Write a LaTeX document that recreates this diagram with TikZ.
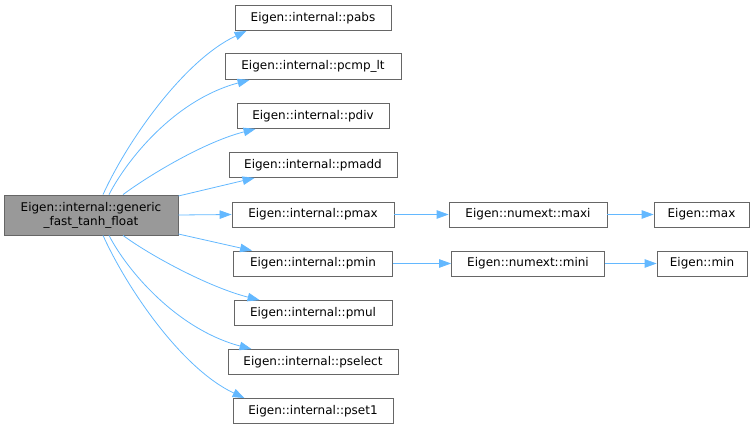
\documentclass[tikz,border=0pt]{standalone}
\usepackage{fontspec}
\setmainfont{DejaVu Sans}
\usetikzlibrary{arrows.meta}
\definecolor{edgeblue}{RGB}{99,184,255}
\definecolor{boxgray}{RGB}{102,102,102}
\definecolor{mainfill}{RGB}{153,153,153}
\tikzset{
  fn/.style={draw=boxgray, fill=white, line width=0.8pt, inner sep=0pt, anchor=center, font=\fontsize{12}{14}\selectfont, text=black},
  mainfn/.style={fn, fill=mainfill, align=center},
  call/.style={draw=edgeblue, line width=0.8pt, -{Triangle[length=12pt,width=8.5pt]}}
}
\begin{document}
\begin{tikzpicture}[x=1pt,y=-1pt]
\useasboundingbox (0,0) rectangle (755,431);
\node[mainfn, minimum width=174pt, minimum height=40pt] (main) at (91,215) {Eigen::internal::generic\\\_fast\_tanh\_float};
\node[fn, minimum width=156pt, minimum height=25pt] (pabs) at (313,18) {Eigen::internal::pabs};
\node[fn, minimum width=176pt, minimum height=26pt] (pcmp) at (313,66.5) {Eigen::internal::pcmp\_lt};
\node[fn, minimum width=152pt, minimum height=25pt] (pdiv) at (313,116) {Eigen::internal::pdiv};
\node[fn, minimum width=168pt, minimum height=25pt] (pmadd) at (313,165) {Eigen::internal::pmadd};
\node[fn, minimum width=162pt, minimum height=25pt] (pmax) at (313,214.5) {Eigen::internal::pmax};
\node[fn, minimum width=159pt, minimum height=25pt] (pmin) at (313,263.5) {Eigen::internal::pmin};
\node[fn, minimum width=158pt, minimum height=25pt] (pmul) at (313,313) {Eigen::internal::pmul};
\node[fn, minimum width=170pt, minimum height=25pt] (pselect) at (313,362) {Eigen::internal::pselect};
\node[fn, minimum width=160pt, minimum height=25pt] (pset) at (313,411) {Eigen::internal::pset1};
\node[fn, minimum width=158pt, minimum height=25pt] (maxi) at (528,214.5) {Eigen::numext::maxi};
\node[fn, minimum width=95pt, minimum height=25pt] (max) at (701.5,214.5) {Eigen::max};
\node[fn, minimum width=153pt, minimum height=25pt] (mini) at (528,263.5) {Eigen::numext::mini};
\node[fn, minimum width=90pt, minimum height=25pt] (min) at (702,263.5) {Eigen::min};

\draw[call] ([xshift=12pt]main.north) .. controls +(25,-55) and +(-62,29) .. ([xshift=12pt]pabs.south west);
\draw[call] ([xshift=18pt]main.north) .. controls +(18,-35) and +(-75,20) .. ([xshift=25pt]pcmp.south west);
\draw[call] ([xshift=32pt]main.north) .. controls +(27,-20) and +(-51,13) .. ([xshift=19pt]pdiv.south west);
\draw[call] ([yshift=19pt]main.east) -- ([xshift=26pt]pmadd.south west);
\draw[call] (main.east) -- (pmax.west);
\draw[call] ([yshift=-19pt]main.east) -- ([xshift=19pt]pmin.north west);
\draw[call] ([xshift=32pt]main.south) .. controls +(27,20) and +(-51,-13) .. ([xshift=26pt]pmul.north west);
\draw[call] ([xshift=18pt]main.south) .. controls +(18,35) and +(-75,-20) .. ([xshift=24pt]pselect.north west);
\draw[call] ([xshift=12pt]main.south) .. controls +(25,55) and +(-62,-29) .. ([xshift=12pt]pset.north west);
\draw[call] (pmax) -- (maxi);
\draw[call] (maxi) -- (max);
\draw[call] (pmin) -- (mini);
\draw[call] (mini) -- (min);
\end{tikzpicture}
\end{document}
